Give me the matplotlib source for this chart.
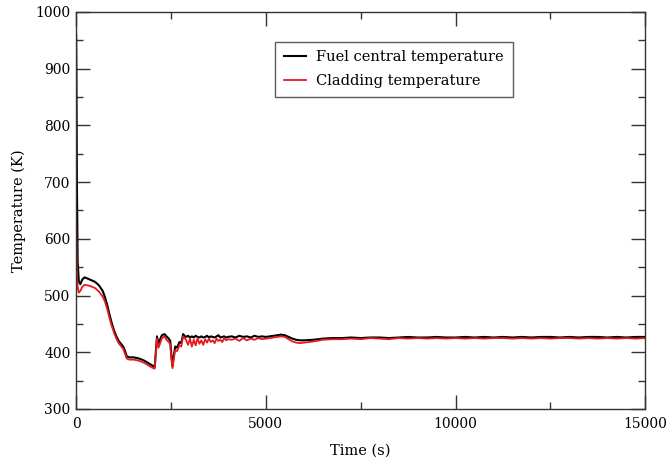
import matplotlib
matplotlib.use("Agg")
import matplotlib.pyplot as plt
from matplotlib.ticker import MultipleLocator

plt.rcParams["font.family"] = ["DejaVu Serif"]

# ── data
time_s = [
    0, 8, 20, 40, 70, 110, 160, 220, 300, 400,
    500, 600, 700, 760, 820, 880, 940, 1000, 1060, 1120,
    1180, 1240, 1290, 1330, 1400, 1500, 1600, 1700, 1800, 1900,
    2000, 2070, 2100, 2130, 2170, 2210, 2260, 2330, 2380, 2440,
    2480, 2510, 2540, 2570, 2610, 2660, 2720, 2770, 2820, 2870,
    2900, 2950, 3000, 3050, 3100, 3150, 3200, 3250, 3300, 3350,
    3400, 3450, 3500, 3550, 3600, 3650, 3700, 3750, 3800, 3850,
    3900, 3950, 4000,
    4100, 4200, 4300, 4400, 4500, 4600, 4700, 4800, 4900, 5000,
    5100, 5200, 5300, 5400, 5500, 5600, 5700, 5800, 5900, 6000,
    6250, 6500, 6750, 7000, 7250, 7500, 7750, 8000, 8250, 8500,
    8750, 9000, 9250, 9500, 9750, 10000, 10250, 10500, 10750, 11000,
    11250, 11500, 11750, 12000, 12250, 12500, 12750, 13000, 13250, 13500,
    13750, 14000, 14250, 14500, 14750, 15000,
]
fuel_temp = [
    960, 880, 700, 560, 525, 520, 528, 532, 530, 527,
    524, 518, 508, 497, 483, 466, 451, 438, 428, 420,
    415, 410, 402, 393, 391, 391, 390, 388, 385, 381,
    377, 374, 400, 428, 415, 422, 430, 432, 428, 424,
    420, 395, 375, 392, 410, 408, 418, 416, 432, 428,
    427, 429, 426, 428, 426, 429, 427, 426, 428, 426,
    427, 429, 426, 428, 427, 426, 428, 430, 426, 427,
    428, 426, 427,
    428, 426, 429, 427, 428, 426, 429, 427, 428, 427,
    428, 429, 430, 431, 430, 427, 424, 422, 421, 421,
    422, 424, 425, 425, 426, 425, 426, 426, 425, 426,
    427, 426, 426, 427, 426, 426, 427, 426, 427, 426,
    427, 426, 427, 426, 427, 427, 426, 427, 426, 427,
    427, 426, 427, 426, 427, 427,
]
clad_temp = [
    628, 590, 540, 515, 505, 508, 515, 519, 518, 516,
    513, 507, 498, 489, 476, 460, 446, 434, 424, 416,
    411, 406, 397, 389, 387, 387, 386, 384, 381, 377,
    373, 371, 395, 424, 408, 415, 425, 428, 422, 418,
    414, 388, 372, 388, 404, 402, 412, 410, 428, 424,
    421, 413, 424, 410, 422, 412, 425, 415, 421, 413,
    423, 417, 424, 418, 421, 416, 424, 420, 422, 418,
    425, 421, 423,
    422, 424, 420, 425, 421, 424, 422, 425, 423, 424,
    425, 426, 427, 428, 427, 423, 419, 417, 416, 417,
    419, 422, 423, 423, 424, 423, 425, 424, 423, 425,
    424, 425, 424, 425, 424, 425, 424, 425, 424, 425,
    425, 424, 425, 424, 425, 424, 425, 425, 424, 425,
    424, 425, 424, 425, 424, 425,
]

fig = plt.figure(figsize=(6.68, 4.59), dpi=100)
ax = fig.add_axes([0.114, 0.109, 0.852, 0.865])

ax.plot(time_s, fuel_temp, color="black", lw=1.5, label="Fuel central temperature")
ax.plot(time_s, clad_temp, color="#e8191c", lw=1.3, label="Cladding temperature")

ax.set_xlim(0, 15000)
ax.set_ylim(300, 1000)
ax.xaxis.set_major_locator(MultipleLocator(5000))
ax.xaxis.set_minor_locator(MultipleLocator(2500))
ax.yaxis.set_major_locator(MultipleLocator(100))
ax.yaxis.set_minor_locator(MultipleLocator(50))
ax.tick_params(which="both", direction="in", top=True, right=True,
               labelsize=10, color="#333333")
ax.tick_params(axis="x", which="both", pad=6)
ax.tick_params(axis="y", which="both", pad=4)
ax.tick_params(which="major", length=10, width=1)
ax.tick_params(which="minor", length=5, width=1)
for sp in ax.spines.values():
    sp.set_color("#333333")
    sp.set_linewidth(1.0)

ax.set_xlabel("Time (s)", fontsize=10.5, labelpad=9)
ax.set_ylabel("Temperature (K)", fontsize=10.5, labelpad=7)

leg = ax.legend(loc="upper left", bbox_to_anchor=(0.35, 0.925), fontsize=10.5,
                frameon=True, fancybox=False, handlelength=1.5,
                handletextpad=0.7, borderpad=0.6, labelspacing=0.65,
                borderaxespad=0)
leg.get_frame().set_edgecolor("#333333")
leg.get_frame().set_linewidth(1.0)

fig.savefig("out.png", dpi=100)
